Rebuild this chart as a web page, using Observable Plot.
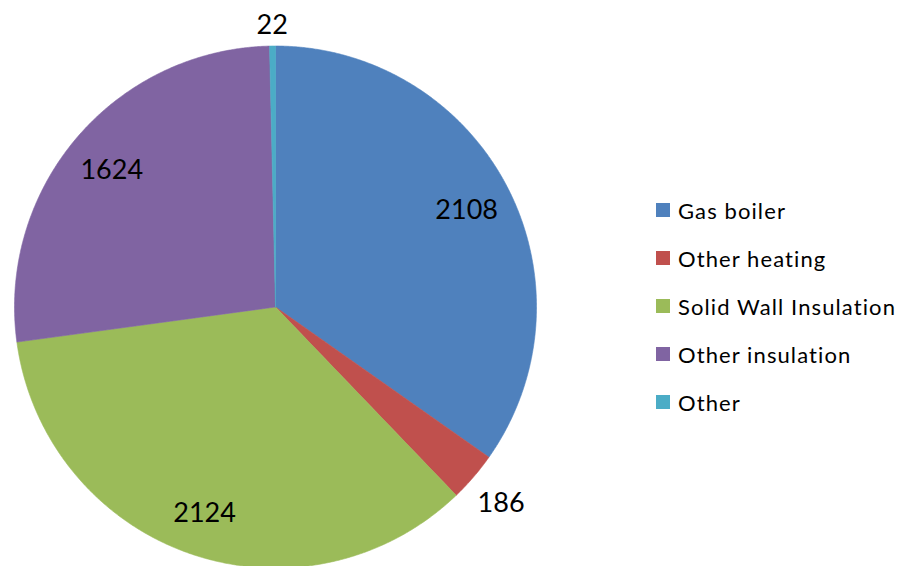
<!DOCTYPE html>
<html>
<head>
<meta charset="utf-8">
<script src="https://cdn.jsdelivr.net/npm/d3@7"></script>
<script src="https://cdn.jsdelivr.net/npm/@observablehq/plot@0.6"></script>
<style>
  html, body { margin: 0; padding: 0; background: #fff; }
  #wrap { position: relative; width: 900px; height: 566px; overflow: hidden; font-family: Lato, "Open Sans", sans-serif; }
  #legend { position: absolute; left: 656px; top: 0; }
  .item { position: absolute; left: 0; display: flex; align-items: center; white-space: nowrap; height: 30px; }
  .sw { width: 14px; height: 14px; margin-right: 8px; flex: none; }
  .lab { font-size: 22px; letter-spacing: 1.1px; color: #000; }
</style>
</head>
<body>
<div id="wrap"><div id="chart"></div><div id="legend"></div></div>
<script>
// ---- data ----
const categories = ["Gas boiler", "Other heating", "Solid Wall Insulation", "Other insulation", "Other"];
const values = [2108, 186, 2124, 1624, 22];
const colors = ["#4F81BD", "#C0504D", "#9BBB59", "#8064A2", "#4BACC6"];

// ---- layout ----
const W = 900, H = 566, cx = 275, cy = 306.5, R = 261;

const arcs = d3.pie().sort(null).value((d, i) => values[i])(categories);
const total = d3.sum(values);

// polygon points for each slice (unit circle, angle clockwise from 12 o'clock)
const pts = [];
arcs.forEach((a, i) => {
  const name = categories[i];
  pts.push({name, x: 0, y: 0});
  const n = Math.max(2, Math.ceil((a.endAngle - a.startAngle) / 0.005));
  for (let k = 0; k <= n; k++) {
    const t = a.startAngle + (a.endAngle - a.startAngle) * k / n;
    pts.push({name, x: Math.sin(t), y: Math.cos(t)});
  }
  pts.push({name, x: 0, y: 0});
});

const labels = arcs.map((a, i) => {
  const m = (a.startAngle + a.endAngle) / 2;
  const inside = values[i] / total > 0.05;
  const r = inside ? 0.825 : 1.09 + 0.065 * Math.abs(Math.sin(m));
  return {text: String(values[i]), x: r * Math.sin(m), y: r * Math.cos(m)};
});

const chart = Plot.plot({
  width: W, height: H,
  margin: 0,
  x: {domain: [-cx / R, (W - cx) / R], range: [0, W], axis: null},
  y: {domain: [-(H - cy) / R, cy / R], range: [H, 0], axis: null},
  color: {domain: categories, range: colors},
  style: {fontFamily: "Lato, 'Open Sans', sans-serif", background: "#fff"},
  marks: [
    Plot.line(pts, {x: "x", y: "y", z: "name", fill: "name", stroke: "name", strokeWidth: 0.6, curve: "linear"}),
    Plot.text(labels, {x: "x", y: "y", text: "text", fontSize: 27, fill: "#000", textAnchor: "middle", dy: 3})
  ]
});
document.getElementById("chart").appendChild(chart);

// ---- legend ----
const legend = document.getElementById("legend");
categories.forEach((c, i) => {
  const it = document.createElement("div");
  it.className = "item";
  it.style.top = (210 + 48 * i - 15) + "px";
  it.innerHTML = `<div class="sw" style="background:${colors[i]}"></div><span class="lab">${c}</span>`;
  legend.appendChild(it);
});
</script>
</body>
</html>
